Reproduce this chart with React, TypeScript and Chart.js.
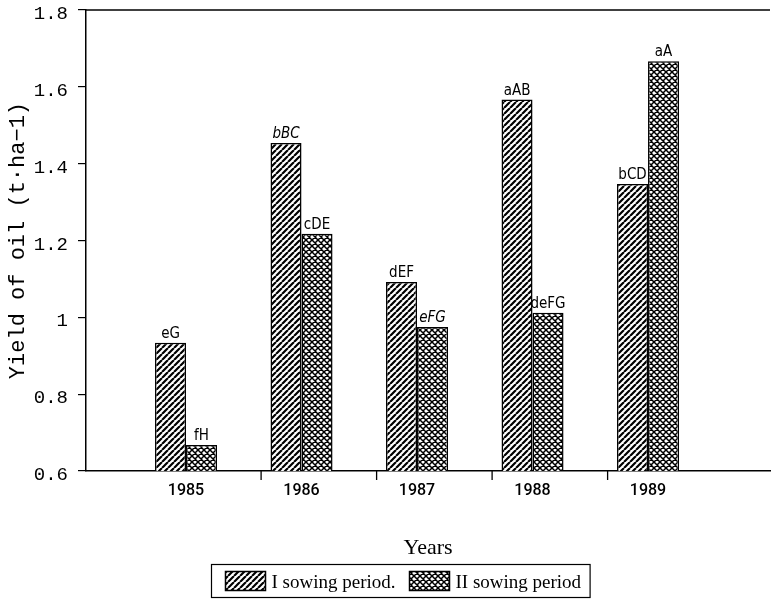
import React, { useEffect, useRef } from "react";
import { Chart, registerables } from "chart.js";

Chart.register(...registerables);

// ---- data ----
const years = [1985, 1986, 1987, 1988, 1989];
const sowingI = [0.934, 1.454, 1.092, 1.567, 1.347];
const sowingII = [0.668, 1.218, 0.975, 1.012, 1.667];
const labelsI = ["eG", "bBC", "dEF", "aAB", "bCD"];
const labelsII = ["fH", "cDE", "eFG", "deFG", "aA"];
const italicLabels = ["bBC", "eFG"];
const yTicks = [0.6, 0.8, 1, 1.2, 1.4, 1.6, 1.8];
const xTickMarks = [1985.65, 1986.65, 1987.65, 1988.65];
const legendLabels = ["I sowing period.", "II sowing period"];
const yTitle = "Yield of oil (t\u00B7ha\u22121)";
const xTitle = "Years";

const NARROW = "'Liberation Sans Narrow', 'DejaVu Sans Condensed', 'Arial Narrow', sans-serif";
const XLAB = "Roboto, 'Liberation Sans', sans-serif";
const MONO = "'Liberation Mono', 'DejaVu Sans Mono', monospace";
const SERIF = "'Liberation Serif', 'DejaVu Serif', serif";

function makeHatch(): CanvasPattern | string {
  const s = 6;
  const c = document.createElement("canvas");
  c.width = s;
  c.height = s;
  const g = c.getContext("2d");
  if (!g) return "#888";
  g.fillStyle = "#fff";
  g.fillRect(0, 0, s, s);
  g.strokeStyle = "#000";
  g.lineWidth = 2.2;
  g.beginPath();
  for (let k = -1; k <= 1; k++) {
    g.moveTo(k * s, s);
    g.lineTo(k * s + s, 0);
  }
  g.stroke();
  const p = g.createPattern(c, "repeat");
  return p || "#888";
}

function makeCross(): CanvasPattern | string {
  const s = 6;
  const c = document.createElement("canvas");
  c.width = s;
  c.height = s;
  const g = c.getContext("2d");
  if (!g) return "#aaa";
  g.fillStyle = "#fff";
  g.fillRect(0, 0, s, s);
  g.strokeStyle = "#000";
  g.lineWidth = 1.5;
  g.beginPath();
  for (let k = -1; k <= 1; k++) {
    g.moveTo(k * s, s);
    g.lineTo(k * s + s, 0);
    g.moveTo(k * s, 0);
    g.lineTo(k * s + s, s);
  }
  g.stroke();
  const p = g.createPattern(c, "repeat");
  return p || "#aaa";
}

export default function App() {
  const ref = useRef<HTMLCanvasElement | null>(null);

  useEffect(() => {
    document.body.style.margin = "0";
    const canvas = ref.current;
    if (!canvas) return;
    const patI = makeHatch();
    const patII = makeCross();

    const extras = {
      id: "extras",
      afterDraw(chart: any) {
        const ctx = chart.ctx as CanvasRenderingContext2D;
        const area = chart.chartArea;
        const xs = chart.scales.x;
        ctx.save();
        // top frame line
        ctx.strokeStyle = "#000";
        ctx.lineWidth = 1.5;
        ctx.beginPath();
        ctx.moveTo(area.left, area.top);
        ctx.lineTo(area.right, area.top);
        ctx.stroke();
        // x tick marks between groups
        ctx.lineWidth = 1.3;
        xTickMarks.forEach((v) => {
          const px = xs.getPixelForValue(v);
          ctx.beginPath();
          ctx.moveTo(px, area.bottom);
          ctx.lineTo(px, area.bottom + 9);
          ctx.stroke();
        });
        // bar labels
        ctx.fillStyle = "#000";
        ctx.textAlign = "center";
        ctx.textBaseline = "alphabetic";
        [labelsI, labelsII].forEach((labs, di) => {
          const meta = chart.getDatasetMeta(di);
          meta.data.forEach((el: any, i: number) => {
            const t = labs[i];
            ctx.font = (italicLabels.includes(t) ? "italic " : "") + "15px " + NARROW;
            ctx.fillText(t, el.x, el.y - 5);
          });
        });
        // legend
        ctx.font = "19px " + SERIF;
        const w1 = ctx.measureText(legendLabels[0]).width;
        const w2 = ctx.measureText(legendLabels[1]).width;
        const sw = 40, sh = 19, padL = 14, gapT = 6, gapS = 14, gapT2 = 6, padR = 9;
        const total = padL + sw + gapT + w1 + gapS + sw + gapT2 + w2 + padR;
        const bx = Math.round(400 - total / 2) + 0.5;
        const by = 564.5;
        const bh = 33;
        ctx.lineWidth = 1.2;
        ctx.strokeRect(bx, by, total, bh);
        let cx = bx + padL;
        const sy = by + 7;
        const pats = [patI, patII];
        const widths = [w1, w2];
        for (let k = 0; k < 2; k++) {
          ctx.fillStyle = pats[k] as any;
          ctx.fillRect(cx, sy, sw, sh);
          ctx.lineWidth = 1.5;
          ctx.strokeRect(cx, sy, sw, sh);
          cx += sw + (k === 0 ? gapT : gapT2);
          ctx.fillStyle = "#000";
          ctx.textAlign = "left";
          ctx.fillText(legendLabels[k], cx, by + 23);
          cx += widths[k] + gapS;
        }
        ctx.restore();
      },
    };

    const chart = new Chart(canvas, {
      type: "bar",
      data: {
        datasets: [
          {
            label: legendLabels[0],
            data: years.map((x, i) => ({ x, y: sowingI[i] })),
            backgroundColor: patI as any,
            borderColor: "#000",
            borderWidth: 1.5,
            categoryPercentage: 0.537,
            barPercentage: 1,
          },
          {
            label: legendLabels[1],
            data: years.map((x, i) => ({ x, y: sowingII[i] })),
            backgroundColor: patII as any,
            borderColor: "#000",
            borderWidth: 1.5,
            categoryPercentage: 0.537,
            barPercentage: 1,
          },
        ],
      },
      options: {
        responsive: false,
        animation: false,
        layout: { padding: { top: 0.5, right: 3, left: 0, bottom: 51 } },
        plugins: { legend: { display: false }, tooltip: { enabled: false } },
        scales: {
          x: {
            type: "linear",
            min: 1984.134,
            max: 1990.056,
            offset: false,
            afterBuildTicks: (s: any) => {
              s.ticks = years.map((v) => ({ value: v }));
            },
            afterFit: (s: any) => {
              s.height = 90;
            },
            ticks: {
              callback: (v: any) => String(v),
              font: { family: XLAB, size: 16, weight: "500", lineHeight: 1 },
              color: "#000",
              padding: 12,
              autoSkip: false,
              maxRotation: 0,
            },
            grid: { display: false, drawTicks: false },
            border: { display: true, color: "#000", width: 1.5 },
            title: {
              display: true,
              text: xTitle,
              font: { family: SERIF, size: 22 },
              color: "#000",
              padding: 0,
            },
          },
          y: {
            min: 0.6,
            max: 1.8,
            afterBuildTicks: (s: any) => {
              s.ticks = yTicks.map((v) => ({ value: v }));
            },
            afterFit: (s: any) => {
              s.width = 86;
            },
            ticks: {
              callback: (v: any) => String(Math.round(Number(v) * 10) / 10),
              font: { family: MONO, size: 19, lineHeight: 0.01 },
              color: "#000",
              padding: 10,
              labelOffset: 4,
            },
            grid: {
              display: true,
              drawOnChartArea: false,
              drawTicks: true,
              tickLength: 8,
              color: "#000",
              lineWidth: 1.2,
            },
            border: { display: true, color: "#000", width: 1.5 },
            title: {
              display: true,
              text: yTitle,
              font: { family: MONO, size: 22 },
              color: "#000",
              padding: { top: 5, bottom: 0 },
            },
          },
        },
      },
      plugins: [extras],
    } as any);

    return () => {
      chart.destroy();
    };
  }, []);

  return (
    <div style={{ width: 773, height: 612, background: "#fff" }}>
      <canvas ref={ref} width={773} height={612} style={{ display: "block" }} />
    </div>
  );
}
